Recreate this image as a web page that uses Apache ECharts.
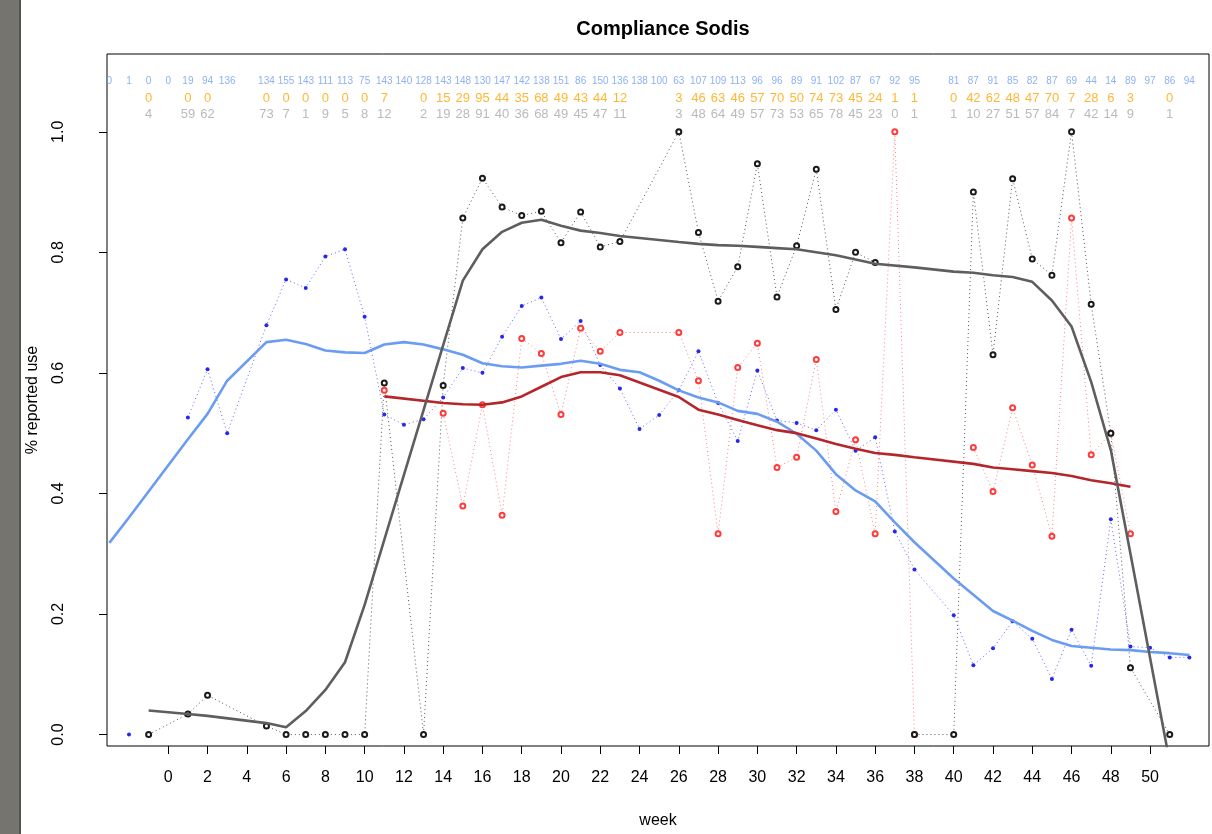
<!DOCTYPE html>
<html>
<head>
<meta charset="utf-8">
<script src="https://cdn.jsdelivr.net/npm/echarts@6/dist/echarts.min.js"></script>
<style>
  html, body { margin: 0; padding: 0; background: #ffffff; }
  #chart { width: 1212px; height: 834px; }
</style>
</head>
<body>
<div id="chart"></div>
<script>
// ---- weekly counts printed along the top of the plot ----
const countWeeks = [-3,-2,-1,0,1,2,3,5,6,7,8,9,10,11,12,13,14,15,16,17,18,19,20,21,22,23,24,25,26,27,28,29,30,31,32,33,34,35,36,37,38,40,41,42,43,44,45,46,47,48,49,50,51,52];
const blueCounts = [0,1,0,0,19,94,136,134,155,143,111,113,75,143,140,128,143,148,130,147,142,138,151,86,150,136,138,100,63,107,109,113,96,96,89,91,102,87,67,92,95,81,87,91,85,82,87,69,44,14,89,97,86,94];

const subWeeks = [-1,1,2,5,6,7,8,9,10,11,13,14,15,16,17,18,19,20,21,22,23,26,27,28,29,30,31,32,33,34,35,36,37,38,40,41,42,43,44,45,46,47,48,49,51];
const orangeCounts = [0,0,0,0,0,0,0,0,0,7,0,15,29,95,44,35,68,49,43,44,12,3,46,63,46,57,70,50,74,73,45,24,1,1,0,42,62,48,47,70,7,28,6,3,0];
const grayCounts = [4,59,62,73,7,1,9,5,8,12,2,19,28,91,40,36,68,49,45,47,11,3,48,64,49,57,73,53,65,78,45,23,0,1,1,10,27,51,57,84,7,42,14,9,1];

// ---- weekly proportions (null = undefined week, breaks the line) ----
const blueWeeks = [-3,-2,-1,0,1,2,3,5,6,7,8,9,10,11,12,13,14,15,16,17,18,19,20,21,22,23,24,25,26,27,28,29,30,31,32,33,34,35,36,37,38,40,41,42,43,44,45,46,47,48,49,50,51,52];
const blueShare = [null,0,null,null,0.526,0.606,0.5,0.679,0.755,0.741,0.793,0.805,0.693,0.531,0.514,0.523,0.559,0.608,0.6,0.66,0.711,0.725,0.656,0.686,0.613,0.574,0.507,0.53,0.571,0.636,0.55,0.487,0.604,0.521,0.517,0.505,0.539,0.471,0.493,0.337,0.274,0.198,0.115,0.143,0.188,0.159,0.092,0.174,0.114,0.357,0.146,0.144,0.128,0.128];

const redWeeks = [11,13,14,15,16,17,18,19,20,21,22,23,26,27,28,29,30,31,32,33,34,35,36,37,38,40,41,42,43,44,45,46,47,48,49];
const redShare = [0.571,null,0.533,0.379,0.547,0.364,0.657,0.632,0.531,0.674,0.636,0.667,0.667,0.587,0.333,0.609,0.649,0.443,0.46,0.622,0.37,0.489,0.333,1.0,0,null,0.476,0.403,0.542,0.447,0.329,0.857,0.464,0.5,0.333];

const blackWeeks = subWeeks;
const blackShare = [0,0.034,0.065,0.014,0,0,0,0,0,0.583,0,0.579,0.857,0.923,0.875,0.861,0.868,0.816,0.867,0.809,0.818,1.0,0.833,0.719,0.776,0.947,0.726,0.811,0.938,0.705,0.8,0.783,null,0,0,0.9,0.63,0.922,0.789,0.762,1.0,0.714,0.5,0.111,0];

// ---- smoothed trends ----
const blueTrendWeeks = [-3,-2,1,2,3,5,6,7,8,9,10,11,12,13,14,15,16,17,18,19,20,21,22,23,24,25,26,27,28,29,30,31,32,33,34,35,36,37,38,40,41,42,43,44,45,46,47,48,49,50,51,52];
const blueTrend = [0.318,0.36,0.49,0.532,0.587,0.651,0.655,0.648,0.637,0.634,0.633,0.647,0.651,0.647,0.639,0.63,0.616,0.611,0.609,0.612,0.615,0.62,0.615,0.605,0.601,0.587,0.571,0.559,0.551,0.537,0.532,0.519,0.499,0.471,0.432,0.405,0.387,0.352,0.319,0.259,0.232,0.205,0.189,0.172,0.157,0.147,0.144,0.141,0.14,0.137,0.135,0.132];

const redTrendWeeks = [11,14,15,16,17,18,19,20,21,22,23,26,27,28,29,30,31,32,33,34,35,36,37,38,41,42,43,44,45,46,47,48,49];
const redTrend = [0.561,0.55,0.548,0.547,0.551,0.561,0.577,0.593,0.601,0.601,0.596,0.56,0.539,0.531,0.522,0.513,0.505,0.5,0.491,0.482,0.474,0.467,0.464,0.46,0.449,0.443,0.44,0.437,0.434,0.429,0.422,0.417,0.411];

const blackTrendWeeks = [-1,1,2,5,6,7,8,9,10,11,13,14,15,16,17,18,19,20,21,22,23,26,27,28,29,30,31,32,33,34,35,36,38,40,41,42,43,44,45,46,47,48,49,51];
const blackTrend = [0.04,0.034,0.031,0.019,0.012,0.039,0.074,0.12,0.215,0.323,0.538,0.646,0.753,0.805,0.834,0.849,0.854,0.844,0.836,0.832,0.827,0.817,0.814,0.812,0.811,0.809,0.807,0.805,0.8,0.795,0.788,0.781,0.775,0.768,0.766,0.762,0.759,0.751,0.72,0.677,0.585,0.472,0.3,-0.046];

// ---- axis ticks ----
const weekTicks = [0,2,4,6,8,10,12,14,16,18,20,22,24,26,28,30,32,34,36,38,40,42,44,46,48,50];
const useTicks = [0,0.2,0.4,0.6,0.8,1.0];

// ---- helpers ----
const pairs = (xs, ys) => xs.map((x, i) => [x, ys[i] === null ? '-' : ys[i]]);
const countRow = (xs, counts, rowY) => xs.map((x, i) => [x, rowY, counts[i]]);

const FONT = '"Liberation Sans", Arial, Helvetica, sans-serif';

const chart = echarts.init(document.getElementById('chart'), null, { renderer: 'canvas' });

function countSeries(data, color, size) {
  return {
    type: 'scatter',
    data: data,
    symbolSize: 0,
    silent: true,
    z: 6,
    label: {
      show: true,
      position: 'inside',
      formatter: p => String(p.value[2]),
      color: color,
      fontSize: size,
      fontFamily: FONT
    }
  };
}

chart.setOption({
  animation: false,
  backgroundColor: '#ffffff',
  title: {
    text: 'Compliance Sodis',
    left: 658,
    top: 14,
    textAlign: 'center',
    textStyle: { fontFamily: FONT, fontSize: 20, fontWeight: 'bold', color: '#000' }
  },
  graphic: [
    { type: 'rect', shape: { x: 0, y: 0, width: 19, height: 834 }, style: { fill: '#76746e' }, z: 100 },
    { type: 'rect', shape: { x: 19, y: 0, width: 2, height: 834 }, style: { fill: '#55534f' }, z: 100 }
  ],
  grid: {
    left: 107, right: 3, top: 54, bottom: 88,
    show: true, borderColor: '#000', borderWidth: 1, backgroundColor: 'transparent'
  },
  xAxis: {
    type: 'value',
    min: -3.12, max: 53.0,
    axisLine: { show: false, onZero: false },
    splitLine: { show: false },
    axisTick: { show: true, customValues: weekTicks, length: 8, lineStyle: { color: '#000' } },
    axisLabel: { customValues: weekTicks, fontSize: 16, color: '#000', margin: 24, fontFamily: FONT },
    name: 'week',
    nameLocation: 'middle',
    nameGap: 67,
    nameTextStyle: { fontSize: 16, color: '#000', fontFamily: FONT }
  },
  yAxis: {
    type: 'value',
    min: -0.019, max: 1.129,
    axisLine: { show: false, onZero: false },
    splitLine: { show: false },
    axisTick: { show: true, customValues: useTicks, length: 8, lineStyle: { color: '#000' } },
    axisLabel: {
      customValues: useTicks, rotate: 90, fontSize: 16, color: '#000', margin: 40, fontFamily: FONT,
      formatter: v => v.toFixed(1)
    },
    name: '% reported use',
    nameLocation: 'middle',
    nameRotate: 90,
    nameGap: 66,
    nameTextStyle: { fontSize: 16, color: '#000', fontFamily: FONT }
  },
  series: [
    {
      name: 'blue weekly', type: 'line', data: pairs(blueWeeks, blueShare),
      connectNulls: false, symbol: 'circle', symbolSize: 4, showAllSymbol: true,
      itemStyle: { color: '#2626f2' },
      lineStyle: { color: '#6464ff', width: 1, type: [1, 3] }, z: 3
    },
    {
      name: 'red weekly', type: 'line', data: pairs(redWeeks, redShare),
      connectNulls: false, symbol: 'emptyCircle', symbolSize: 5, showAllSymbol: true,
      itemStyle: { color: '#ff3b3b', borderWidth: 1 },
      lineStyle: { color: '#ff8080', width: 1, type: [1, 3] }, z: 3
    },
    {
      name: 'black weekly', type: 'line', data: pairs(blackWeeks, blackShare),
      connectNulls: false, symbol: 'emptyCircle', symbolSize: 5, showAllSymbol: true,
      itemStyle: { color: '#1a1a1a', borderWidth: 1 },
      lineStyle: { color: '#555555', width: 1, type: [1, 3] }, z: 3
    },
    {
      name: 'blue trend', type: 'line', data: pairs(blueTrendWeeks, blueTrend),
      symbol: 'none', lineStyle: { color: '#6a9cf2', width: 2.6 }, z: 4
    },
    {
      name: 'red trend', type: 'line', data: pairs(redTrendWeeks, redTrend),
      symbol: 'none', lineStyle: { color: '#b5262a', width: 2.6 }, z: 4
    },
    {
      name: 'black trend', type: 'line', data: pairs(blackTrendWeeks, blackTrend),
      symbol: 'none', lineStyle: { color: '#5e5e5e', width: 2.6 }, z: 4
    },
    countSeries(countRow(countWeeks, blueCounts, 1.083), '#6f9df0', 10),
    countSeries(countRow(subWeeks, orangeCounts, 1.055), '#ffa500', 13),
    countSeries(countRow(subWeeks, grayCounts, 1.028), '#a9a9a9', 13)
  ]
});
</script>
</body>
</html>
